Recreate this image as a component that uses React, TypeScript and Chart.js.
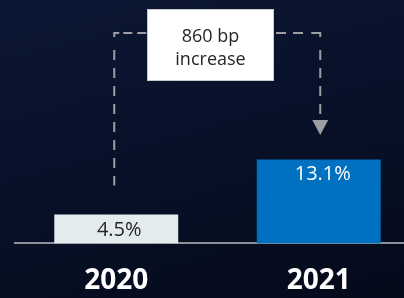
import React, { useEffect, useRef } from "react";
import { Chart, registerables } from "chart.js";

Chart.register(...registerables);

const categories = ["2020", "2021"];
const values = [4.5, 13.1];
const valueLabels = ["4.5%", "13.1%"];
const calloutLines = ["860 bp", "increase"];
const barColors = ["#e4ebee", "#0070c0"];
const labelColors = ["#262626", "#ffffff"];

const FONT = "'Open Sans', 'DejaVu Sans', sans-serif";

const overlayPlugin = {
  id: "overlay",
  afterDraw(chart: any) {
    const ctx = chart.ctx as CanvasRenderingContext2D;
    const meta = chart.getDatasetMeta(0);
    const b0 = meta.data[0] as any;
    const b1 = meta.data[1] as any;
    ctx.save();

    // value labels
    ctx.font = `20px ${FONT}`;
    ctx.textAlign = "center";
    ctx.textBaseline = "middle";
    ctx.fillStyle = labelColors[0];
    ctx.fillText(valueLabels[0], b0.x + 3, b0.base - 13);
    ctx.fillStyle = labelColors[1];
    ctx.fillText(valueLabels[1], b1.x + 4, b1.y + 15);

    // connector geometry
    const lx = b0.x - 2;
    const rx = b1.x + 1.5;
    const hy = 33;
    const boxW = 127;
    const boxH = 72;
    const boxCx = (b0.x + b1.x) / 2 - 7;
    const boxL = boxCx - boxW / 2;
    const boxR = boxCx + boxW / 2;
    const boxT = 9;
    const tipY = b1.y - 24.5;
    const triTop = tipY - 15;

    ctx.strokeStyle = "#9c9ea3";
    ctx.lineWidth = 2;
    ctx.lineCap = "butt";

    // corners (solid)
    ctx.setLineDash([]);
    ctx.beginPath();
    ctx.moveTo(lx + 5, hy);
    ctx.lineTo(lx, hy);
    ctx.lineTo(lx, hy + 4);
    ctx.moveTo(rx - 9, hy);
    ctx.lineTo(rx, hy);
    ctx.lineTo(rx, hy + 4);
    ctx.stroke();

    // horizontal dashes
    ctx.setLineDash([9, 5]);
    ctx.beginPath();
    ctx.moveTo(lx + 9, hy);
    ctx.lineTo(boxL, hy);
    ctx.stroke();
    ctx.setLineDash([10, 7]);
    ctx.beginPath();
    ctx.moveTo(boxR + 2, hy);
    ctx.lineTo(rx - 16, hy);
    ctx.stroke();

    // vertical dashes
    ctx.setLineDash([10, 8]);
    ctx.beginPath();
    ctx.moveTo(lx, 50);
    ctx.lineTo(lx, b0.y - 29);
    ctx.stroke();
    ctx.beginPath();
    ctx.moveTo(rx, 50);
    ctx.lineTo(rx, triTop - 3);
    ctx.stroke();

    // arrow head
    ctx.setLineDash([]);
    ctx.fillStyle = "#9c9ea3";
    ctx.beginPath();
    ctx.moveTo(rx - 8, triTop);
    ctx.lineTo(rx + 8, triTop);
    ctx.lineTo(rx, tipY);
    ctx.closePath();
    ctx.fill();

    // callout box
    ctx.fillStyle = "#ffffff";
    ctx.fillRect(boxL, boxT, boxW, boxH);
    ctx.strokeStyle = "#c9cbd0";
    ctx.lineWidth = 1;
    ctx.strokeRect(boxL + 0.5, boxT + 0.5, boxW - 1, boxH - 1);

    ctx.fillStyle = "#262626";
    ctx.font = `18px ${FONT}`;
    ctx.textAlign = "center";
    ctx.textBaseline = "alphabetic";
    ctx.fillText(calloutLines[0], boxCx, 41.5);
    ctx.fillText(calloutLines[1], boxCx, 64.5);

    ctx.restore();
  },
};

export default function App() {
  const canvasRef = useRef<HTMLCanvasElement | null>(null);

  useEffect(() => {
    if (!canvasRef.current) return;
    const chart = new Chart(canvasRef.current, {
      type: "bar",
      data: {
        labels: categories,
        datasets: [
          {
            data: values,
            backgroundColor: barColors,
            borderWidth: 0,
            categoryPercentage: 1,
            barPercentage: 0.612,
          },
        ],
      },
      options: {
        animation: false,
        responsive: true,
        maintainAspectRatio: false,
        layout: { padding: { left: 15, right: 0, top: 0, bottom: 0 } },
        plugins: {
          legend: { display: false },
          tooltip: { enabled: false },
        },
        scales: {
          x: {
            grid: { display: false, drawTicks: false, tickLength: 0 },
            border: { display: true, color: "#8d9099", width: 2 },
            ticks: {
              color: "#ffffff",
              padding: 21,
              font: { family: FONT, size: 28, weight: "bold" },
            },
            afterFit(scale: any) {
              scale.height = 54.6;
            },
          },
          y: {
            display: false,
            min: 0,
            max: 38,
          },
        },
      },
      plugins: [overlayPlugin],
    });
    return () => chart.destroy();
  }, []);

  return (
    <div
      style={{
        position: "fixed",
        left: 0,
        top: 0,
        width: 404,
        height: 298,
        overflow: "hidden",
        background:
          "linear-gradient(165deg, #0c1734 0%, #081129 45%, #040a1a 100%)",
      }}
    >
      <div style={{ position: "absolute", left: 0, top: 0, width: 420, height: 298 }}>
        <canvas ref={canvasRef} />
      </div>
    </div>
  );
}
